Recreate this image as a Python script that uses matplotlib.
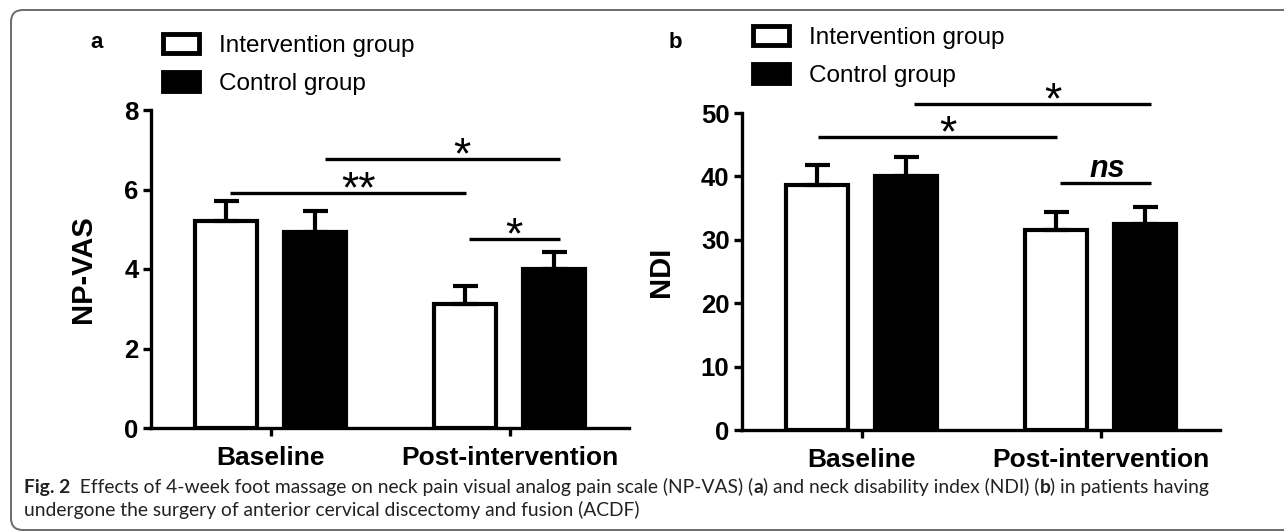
import numpy as np
import matplotlib.pyplot as plt
from matplotlib.patches import Patch, FancyBboxPatch

plt.rcParams['font.family'] = ['Liberation Sans', 'DejaVu Sans']

# ---------------------------------------------------------------
# Data
# ---------------------------------------------------------------
groups = ['Baseline', 'Post-intervention']
series = ['Intervention group', 'Control group']

vas_int = [5.20, 3.12]
vas_int_err = [0.50, 0.44]
vas_ctrl = [4.93, 4.00]
vas_ctrl_err = [0.52, 0.42]

ndi_int = [38.6, 31.5]
ndi_int_err = [3.2, 2.9]
ndi_ctrl = [40.1, 32.5]
ndi_ctrl_err = [2.95, 2.7]

# significance brackets: (x from, x to, y, label, label x)
vas_sig = [(-0.17, 0.82, 5.90, '**', 0.37), (0.23, 1.21, 6.77, '*', 0.80), (0.83, 1.21, 4.75, '*', 1.02)]
ndi_sig = [(-0.18, 0.82, 46.2, '*', 0.36), (0.22, 1.21, 51.4, '*', 0.80), (0.83, 1.21, 39.0, 'ns', 1.03)]

caption_1 = [('Fig. 2', 'bold'), ('  Effects of 4-week foot massage on neck pain visual analog pain scale (NP-VAS) (', 'normal'),
             ('a', 'bold'), (') and neck disability index (NDI) (', 'normal'), ('b', 'bold'),
             (') in patients having', 'normal')]
caption_2 = [('undergone the surgery of anterior cervical discectomy and fusion (ACDF)', 'normal')]

# ---------------------------------------------------------------
# Figure
# ---------------------------------------------------------------
W, H = 1284, 532
fig = plt.figure(figsize=(W / 100, H / 100), dpi=100)

# rounded frame around the whole figure
frame = FancyBboxPatch((11, 2), 1320, 520, boxstyle='round,pad=0,rounding_size=12',
                       transform=None, fill=False, edgecolor='#6b6b6b', linewidth=1.4)
fig.add_artist(frame)


def px_axes(x0, x1, y_top, y_bot):
    return fig.add_axes([x0 / W, 1 - y_bot / H, (x1 - x0) / W, (y_bot - y_top) / H])


off, width = 0.185, 0.26
lw = 3.0


def draw_panel(ax, int_vals, int_err, ctrl_vals, ctrl_err, ymax, ystep, ylabel, sig, label_x):
    x = np.arange(len(groups))
    ax.bar(x - off, int_vals, width, color='white', edgecolor='black', linewidth=lw, zorder=2)
    ax.bar(x + off, ctrl_vals, width, color='black', edgecolor='black', linewidth=lw, zorder=2)
    ax.errorbar(x - off, int_vals, yerr=[np.zeros(len(x)), int_err], fmt='none', ecolor='black',
                elinewidth=lw, capsize=9, capthick=lw, zorder=3)
    ax.errorbar(x + off, ctrl_vals, yerr=[np.zeros(len(x)), ctrl_err], fmt='none', ecolor='black',
                elinewidth=lw, capsize=9, capthick=lw, zorder=3)

    ax.set_xlim(-0.5, 1.5)
    ax.set_ylim(0, ymax)
    ax.set_xticks(x)
    ax.set_xticklabels(groups, fontsize=19, fontweight='bold')
    yt = np.arange(0, ymax + 0.001, ystep)
    ax.set_yticks(yt)
    ax.set_yticklabels([f'{v:g}' for v in yt], fontsize=18.5, fontweight='bold')
    ax.tick_params(axis='x', length=6, width=2.4, pad=7)
    ax.tick_params(axis='y', length=6, width=2.4, pad=3)
    for s in ['top', 'right']:
        ax.spines[s].set_visible(False)
    for s in ['left', 'bottom']:
        ax.spines[s].set_linewidth(2.4)
    ax.set_ylabel(ylabel, fontsize=21, fontweight='bold')
    ax.yaxis.set_label_coords(label_x, 0.5)

    for x0, x1, y, lab, lab_x in sig:
        ax.plot([x0, x1], [y, y], color='black', linewidth=2.4, clip_on=False, solid_capstyle='butt')
        if lab == 'ns':
            ax.annotate(lab, xy=(lab_x, y), xytext=(0, 4.3), textcoords='offset points',
                        ha='center', va='baseline', fontsize=22, fontweight='bold', style='italic')
        else:
            fs = 32
            ax.annotate(lab, xy=(lab_x, y), xytext=(0, 11.5 - 0.57 * fs),
                        textcoords='offset points', ha='center', va='baseline',
                        fontsize=fs, annotation_clip=False)


ax1 = px_axes(151, 629, 110, 428)
draw_panel(ax1, vas_int, vas_int_err, vas_ctrl, vas_ctrl_err, 8, 2, 'NP-VAS', vas_sig, -0.113)
ax2 = px_axes(742, 1220, 113, 430)
draw_panel(ax2, ndi_int, ndi_int_err, ndi_ctrl, ndi_ctrl_err, 50, 10, 'NDI', ndi_sig, -0.14)

# legends and panel letters
handles = [Patch(facecolor='white', edgecolor='black', linewidth=3.5),
           Patch(facecolor='black', edgecolor='black', linewidth=3.5)]
for ax, lx, ly in [(ax1, 163, 34), (ax2, 753, 26)]:
    fig.legend(handles, series, loc='upper left', bbox_to_anchor=(lx / W, 1 - ly / H),
               frameon=False, fontsize=17.5, borderpad=0, borderaxespad=0,
               handlelength=1.5, handleheight=0.8, handletextpad=0.8, labelspacing=0.64)

fig.text(97 / W, 1 - 43 / H, 'a', fontsize=16, fontweight='bold', ha='center', va='center')
fig.text(675 / W, 1 - 42 / H, 'b', fontsize=16, fontweight='bold', ha='center', va='center')

# caption with mixed bold / regular pieces, placed in pixel coordinates
renderer = fig.canvas.get_renderer()


def draw_line(pieces, x, y_top):
    for s, w in pieces:
        t = fig.text(x, H - y_top, s, fontsize=13.9, fontweight=w, family=['Lato', 'DejaVu Sans'],
                     color='#222222', transform=None, ha='left', va='baseline')
        x = t.get_window_extent(renderer).x1


draw_line(caption_1, 24, 493)
draw_line(caption_2, 24, 516)

fig.savefig('out.png', dpi=100)
